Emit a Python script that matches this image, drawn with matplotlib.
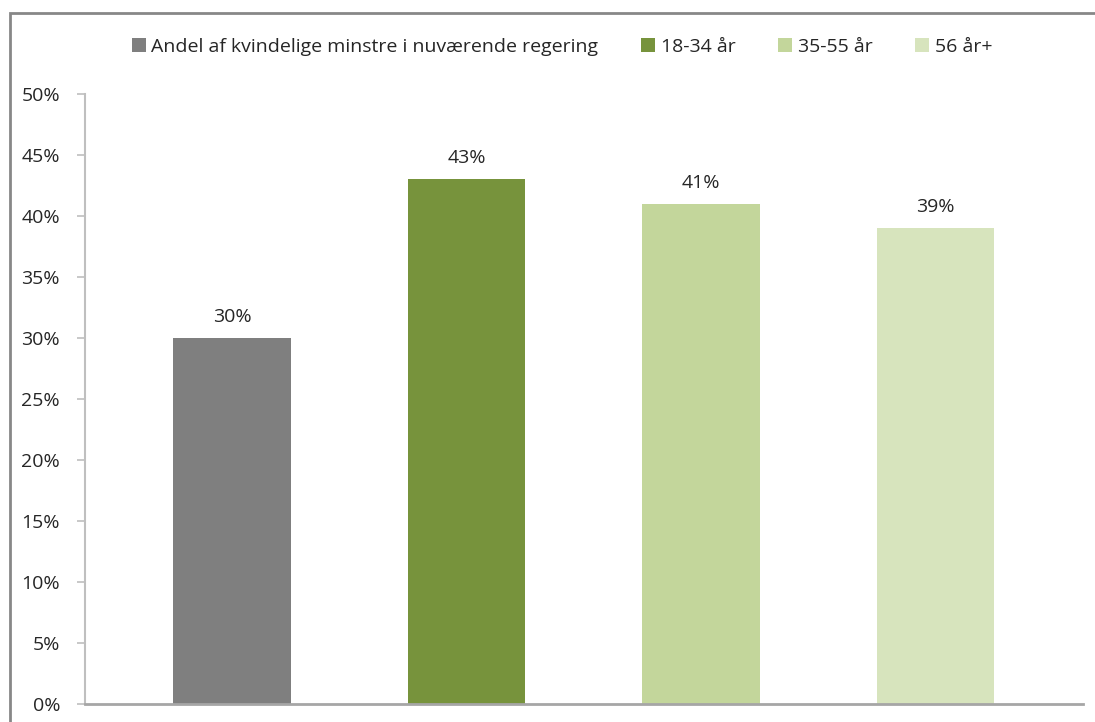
import matplotlib.pyplot as plt
from matplotlib.patches import Rectangle
from matplotlib.ticker import PercentFormatter

plt.rcParams['font.family'] = ['Open Sans', 'DejaVu Sans']

# ─── Data ─────────────────────────────────────────────────────────────────────
series = ["Andel af kvindelige minstre i nuværende regering",
          "18-34 år", "35-55 år", "56 år+"]
values = [30, 43, 41, 39]
colors = ["#7F7F7F", "#77933C", "#C3D69B", "#D7E4BD"]
yticks = list(range(0, 51, 5))

W, H = 1095, 722
FS = 14
fig = plt.figure(figsize=(W / 100, H / 100), dpi=100)
fig.patch.set_facecolor("white")

# outer chart border (runs off the right / bottom edge like the screenshot)
fig.patches.append(Rectangle((10 / W, -0.05), 1.1, 1 - 13 / H + 0.05,
                             transform=fig.transFigure, fill=False,
                             edgecolor="#878787", linewidth=2, zorder=0))

ax = fig.add_axes([85 / W, 1 - 704 / H, (1083 - 85) / W, (704 - 94) / H])

xs = range(len(values))
for x, v, c, lab in zip(xs, values, colors, series):
    ax.bar(x, v, width=0.503, color=c, label=lab, zorder=2)
    ax.text(x, v + 1.0, f"{v}%", ha="center", va="bottom",
            fontsize=FS, color="#262626")

ax.set_xlim(-0.627, 3.629)
ax.set_ylim(0, 50)
ax.set_yticks(yticks)
ax.yaxis.set_major_formatter(PercentFormatter(decimals=0))
ax.set_xticks([])
ax.tick_params(axis="y", length=6, width=1.2, color="#BFBFBF",
               labelsize=FS, labelcolor="#262626", pad=12)

for s in ("top", "right"):
    ax.spines[s].set_visible(False)
ax.spines["left"].set_color("#BFBFBF")
ax.spines["left"].set_linewidth(1.5)
ax.spines["bottom"].set_color("#A6A6A6")
ax.spines["bottom"].set_linewidth(2)

fig.legend(loc="center", bbox_to_anchor=(562 / W, 1 - 47 / H), ncol=4,
           frameon=False, fontsize=FS, handlelength=0.7, handleheight=0.7,
           handletextpad=0.3, columnspacing=2.2, labelcolor="#262626")

fig.savefig("out.png", dpi=100)
